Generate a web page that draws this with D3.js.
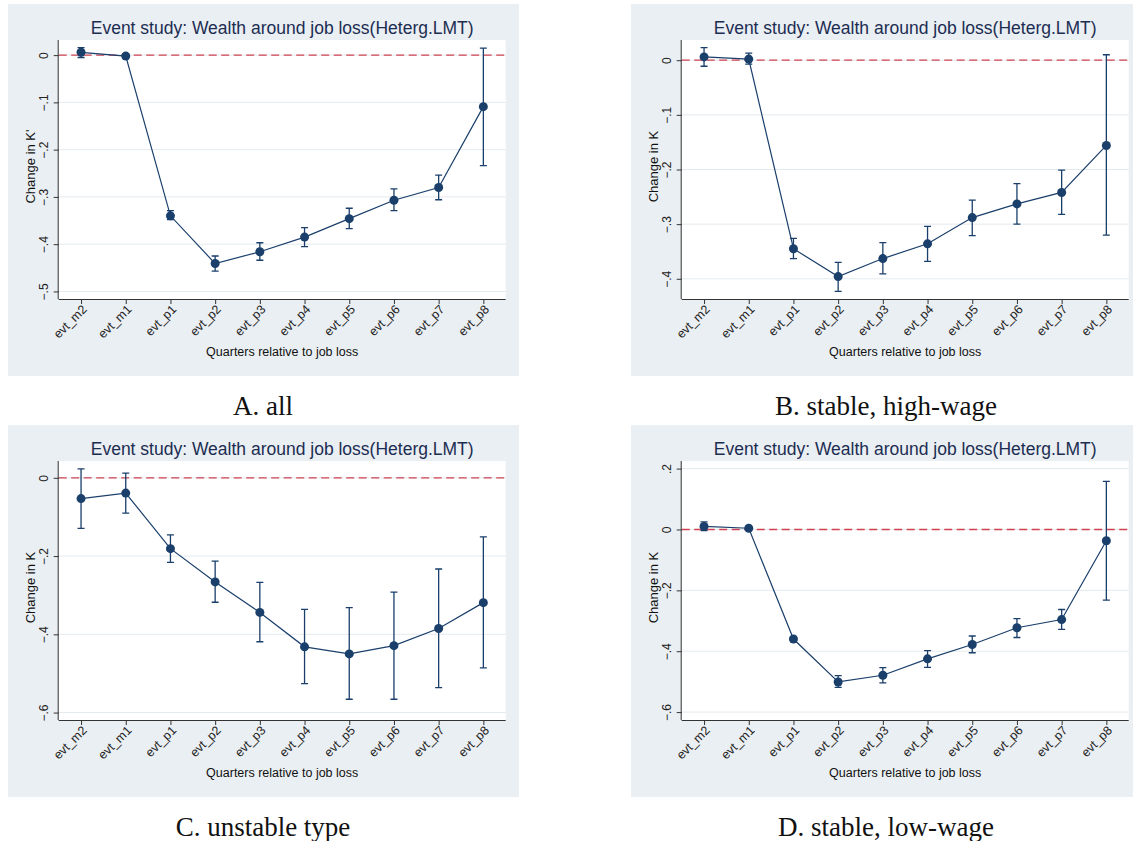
<!DOCTYPE html>
<html>
<head>
<meta charset="utf-8">
<script src="https://cdn.jsdelivr.net/npm/d3@7"></script>
<style>
  body { margin: 0; background: #fff; }
  svg { display: block; }
</style>
</head>
<body>
<svg id="chart" width="1133" height="841"></svg>
<script>
// quarters relative to job loss
const categories = ["evt_m2", "evt_m1", "evt_p1", "evt_p2", "evt_p3", "evt_p4", "evt_p5", "evt_p6", "evt_p7", "evt_p8"];

// A. all
const estA = [0.006, -0.002, -0.340, -0.441, -0.416, -0.385, -0.346, -0.307, -0.280, -0.109];
const loA  = [-0.005, -0.006, -0.348, -0.457, -0.434, -0.405, -0.367, -0.329, -0.306, -0.234];
const hiA  = [0.016, 0.003, -0.329, -0.425, -0.397, -0.365, -0.324, -0.283, -0.254, 0.015];
const ticksA = [0, -0.1, -0.2, -0.3, -0.4, -0.5];

// B. stable, high-wage
const estB = [0.006, 0.002, -0.345, -0.396, -0.363, -0.336, -0.288, -0.263, -0.242, -0.156];
const loB  = [-0.011, -0.007, -0.363, -0.423, -0.391, -0.368, -0.321, -0.300, -0.282, -0.320];
const hiB  = [0.023, 0.013, -0.326, -0.370, -0.334, -0.304, -0.256, -0.226, -0.201, 0.010];
const ticksB = [0, -0.1, -0.2, -0.3, -0.4];

// C. unstable type
const estC = [-0.053, -0.039, -0.181, -0.266, -0.344, -0.432, -0.450, -0.429, -0.385, -0.319];
const loC  = [-0.129, -0.090, -0.216, -0.318, -0.419, -0.526, -0.566, -0.566, -0.536, -0.486];
const hiC  = [0.023, 0.012, -0.146, -0.213, -0.267, -0.336, -0.332, -0.292, -0.233, -0.151];
const ticksC = [0, -0.2, -0.4, -0.6];

// D. stable, low-wage
const estD = [0.010, 0.004, -0.360, -0.501, -0.479, -0.425, -0.378, -0.323, -0.296, -0.037];
const loD  = [-0.004, 0.000, -0.368, -0.519, -0.504, -0.453, -0.405, -0.355, -0.328, -0.232];
const hiD  = [0.025, 0.008, -0.353, -0.480, -0.454, -0.398, -0.350, -0.293, -0.263, 0.158];
const ticksD = [0.2, 0, -0.2, -0.4, -0.6];

const titleText = "Event study: Wealth around job loss(Heterg.LMT)";
const xTitle = "Quarters relative to job loss";

const panels = [
    { caption: "A. all", yTitle: "Change in K'", est: estA, lo: loA, hi: hiA, ticks: ticksA, domain: [-0.516, 0.032], x: 8, y: 4, w: 511 },
    { caption: "B. stable, high-wage", yTitle: "Change in K", est: estB, lo: loB, hi: hiB, ticks: ticksB, domain: [-0.437, 0.037], x: 631, y: 4, w: 502 },
    { caption: "C. unstable type", yTitle: "Change in K", est: estC, lo: loC, hi: hiC, ticks: ticksC, domain: [-0.619, 0.043], x: 8, y: 425, w: 511 },
    { caption: "D. stable, low-wage", yTitle: "Change in K", est: estD, lo: loD, hi: hiD, ticks: ticksD, domain: [-0.626, 0.225], x: 631, y: 425, w: 502 }
];

const navy = "#1a3f6b";
const panelH = 372;
const margin = { top: 36, left: 50.7 };
const plotW = 447, plotH = 259;

// stata style: -.1 instead of -0.1
const fmt = d => d === 0 ? "0" : d3.format(".1f")(d).replace("0.", ".");

const svg = d3.select("#chart");

panels.forEach(p => {
    const g = svg.append("g").attr("transform", `translate(${p.x},${p.y})`);

    g.append("rect")
        .attr("width", p.w).attr("height", panelH)
        .attr("fill", "#eaeff3");

    const chart = g.append("g")
        .attr("transform", `translate(${margin.left},${margin.top})`);

    chart.append("rect")
        .attr("width", plotW).attr("height", plotH)
        .attr("fill", "#fff");

    const xScale = d3.scalePoint()
        .domain(categories)
        .range([0, plotW])
        .padding(0.5);

    const yScale = d3.scaleLinear()
        .domain(p.domain)
        .range([plotH, 0]);

    // gridlines
    chart.selectAll(".grid")
        .data(p.ticks)
        .enter()
        .append("line")
        .attr("class", "grid")
        .attr("x1", 0).attr("x2", plotW)
        .attr("y1", d => yScale(d)).attr("y2", d => yScale(d))
        .attr("stroke", "#e3eaee")
        .attr("stroke-width", 1);

    // zero line
    chart.append("line")
        .attr("x1", 0).attr("x2", plotW)
        .attr("y1", yScale(0)).attr("y2", yScale(0))
        .attr("stroke", "#cf4250")
        .attr("stroke-width", 1.3)
        .attr("stroke-dasharray", "8,4.5");

    const yAxis = d3.axisLeft(yScale).tickValues(p.ticks).tickSize(5).tickFormat(fmt);
    const xAxis = d3.axisBottom(xScale).tickSize(5);

    const yAxisG = chart.append("g").attr("class", "axis y-axis").call(yAxis);
    yAxisG.select(".domain").attr("d", `M-0.5,0V${plotH}`).attr("stroke", "#333");
    yAxisG.selectAll(".tick line").attr("stroke", "#333");
    yAxisG.selectAll(".tick text")
        .attr("transform", "rotate(-90)")
        .attr("x", 0).attr("y", -15)
        .attr("dy", "0.35em")
        .attr("text-anchor", "middle")
        .attr("font-family", "Liberation Sans, Arial, sans-serif")
        .attr("font-size", 12)
        .attr("fill", "#222");

    const xAxisG = chart.append("g").attr("class", "axis x-axis")
        .attr("transform", `translate(0,${plotH})`)
        .call(xAxis);
    xAxisG.select(".domain").attr("d", `M0,0.5H${plotW}`).attr("stroke", "#333");
    xAxisG.selectAll(".tick line").attr("stroke", "#333");
    xAxisG.selectAll(".tick text")
        .attr("text-anchor", "end")
        .attr("transform", "translate(3,8) rotate(-45)")
        .attr("x", 0).attr("y", 0).attr("dy", "0.35em")
        .attr("font-family", "Liberation Sans, Arial, sans-serif")
        .attr("font-size", 12.5)
        .attr("fill", "#222");

    // error bars
    const cis = categories.map((c, i) => ({ c: c, lo: p.lo[i], hi: p.hi[i] }));
    chart.selectAll(".ci")
        .data(cis)
        .enter()
        .append("path")
        .attr("class", "ci")
        .attr("d", d => {
            const x = xScale(d.c), y1 = yScale(d.lo), y2 = yScale(d.hi);
            return `M${x - 3.5},${y1}H${x + 3.5}M${x},${y1}V${y2}M${x - 3.5},${y2}H${x + 3.5}`;
        })
        .attr("fill", "none")
        .attr("stroke", navy)
        .attr("stroke-width", 1.3);

    const pts = categories.map((c, i) => ({ c: c, v: p.est[i] }));

    chart.append("path")
        .datum(pts)
        .attr("d", d3.line().x(d => xScale(d.c)).y(d => yScale(d.v)))
        .attr("fill", "none")
        .attr("stroke", navy)
        .attr("stroke-width", 1.2);

    chart.selectAll(".dot")
        .data(pts)
        .enter()
        .append("circle")
        .attr("class", "dot")
        .attr("cx", d => xScale(d.c))
        .attr("cy", d => yScale(d.v))
        .attr("r", 4.5)
        .attr("fill", navy);

    // titles
    g.append("text")
        .attr("x", margin.left + plotW / 2).attr("y", 30)
        .attr("text-anchor", "middle")
        .attr("font-family", "Liberation Sans, Arial, sans-serif")
        .attr("font-size", 17.5)
        .attr("fill", "#1c2d52")
        .text(titleText);

    g.append("text")
        .attr("x", margin.left + plotW / 2).attr("y", 352)
        .attr("text-anchor", "middle")
        .attr("font-family", "Liberation Sans, Arial, sans-serif")
        .attr("font-size", 12.5)
        .attr("fill", "#111")
        .text(xTitle);

    g.append("text")
        .attr("transform", `translate(${margin.left - 28},${margin.top + plotH / 2 - 3}) rotate(-90)`)
        .attr("text-anchor", "middle")
        .attr("dy", "0.35em")
        .attr("font-family", "Liberation Sans, Arial, sans-serif")
        .attr("font-size", 13)
        .attr("fill", "#111")
        .text(p.yTitle);

    // caption under the panel
    svg.append("text")
        .attr("x", p.x + 255).attr("y", p.y + 411)
        .attr("text-anchor", "middle")
        .attr("font-family", "Liberation Serif, serif")
        .attr("font-size", 27)
        .attr("fill", "#111")
        .text(p.caption);
});
</script>
</body>
</html>
